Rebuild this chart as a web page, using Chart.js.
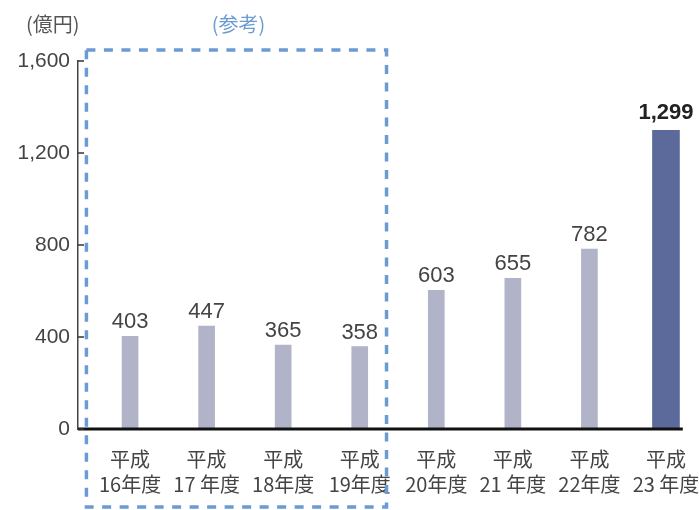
<!DOCTYPE html>
<html>
<head>
<meta charset="utf-8">
<script src="https://cdn.jsdelivr.net/npm/chart.js@4/dist/chart.umd.min.js"></script>
<style>
  html, body { margin: 0; padding: 0; background: #fff; }
  #wrap { position: relative; width: 699px; height: 510px; }
</style>
</head>
<body>
<div id="wrap"><canvas id="bar-chart" width="699" height="510"></canvas></div>
<script>
// 年度ラベル (2行)
const yearLabels = [
  ["平成", "16年度"], ["平成", "17 年度"], ["平成", "18年度"], ["平成", "19年度"],
  ["平成", "20年度"], ["平成", "21 年度"], ["平成", "22年度"], ["平成", "23 年度"]
];
const amounts = [403, 447, 365, 358, 603, 655, 782, 1299]; // 億円
const yTicks = [0, 400, 800, 1200, 1600];
const unitLabel = "(億円)";
const refLabel = "(参考)";

const lightColor = "#b1b3c8";
const darkColor = "#5b6a9b";
const refBlue = "#6b9bd3";
const fontNum = "'Liberation Sans', Arial, sans-serif";
const fontJp = "'Noto Sans CJK JP', sans-serif";

// 平成23年度だけ別扱い(太い棒)
const lightPoints = amounts.slice(0, 7).map((v, i) => ({ x: i, y: v }));
const darkPoints = [{ x: 7, y: amounts[7] }];

const extrasPlugin = {
  id: "extras",
  afterDraw(chart) {
    const ctx = chart.ctx;
    const xs = chart.scales.x;
    const ys = chart.scales.y;
    const area = chart.chartArea;
    ctx.save();

    // x軸の線
    const y0 = ys.getPixelForValue(0);
    ctx.strokeStyle = "#111";
    ctx.lineWidth = 3;
    ctx.beginPath();
    ctx.moveTo(area.left, y0);
    ctx.lineTo(xs.getPixelForValue(7.22), y0);
    ctx.stroke();

    // y軸の内向き目盛り
    ctx.strokeStyle = "#333";
    ctx.lineWidth = 1.5;
    yTicks.forEach((t) => {
      const py = ys.getPixelForValue(t);
      ctx.beginPath();
      ctx.moveTo(area.left, py);
      ctx.lineTo(area.left + 6, py);
      ctx.stroke();
    });

    // 数値ラベル
    ctx.textAlign = "center";
    ctx.textBaseline = "bottom";
    chart.data.datasets.forEach((ds, di) => {
      const meta = chart.getDatasetMeta(di);
      meta.data.forEach((bar, j) => {
        const v = ds.data[j].y;
        const last = di === 1;
        ctx.fillStyle = last ? "#222" : "#444";
        ctx.font = (last ? "bold " : "") + "22px " + fontNum;
        ctx.fillText(v.toLocaleString("en-US"), bar.x, bar.y - (last ? 6 : 3));
      });
    });

    // 単位
    ctx.fillStyle = "#555";
    ctx.font = "20px " + fontJp;
    ctx.textAlign = "left";
    ctx.textBaseline = "middle";
    ctx.fillText(unitLabel, 26, 24);

    // 参考の点線枠
    const left = xs.getPixelForValue(-0.57);
    const right = xs.getPixelForValue(3.35);
    const top = ys.getPixelForValue(1600) - 11;
    const bottom = chart.height - 3;
    ctx.strokeStyle = refBlue;
    ctx.lineWidth = 3.5;
    ctx.setLineDash([9, 8.5]);
    ctx.strokeRect(left, top, right - left, bottom - top);
    ctx.setLineDash([]);

    ctx.fillStyle = refBlue;
    ctx.textAlign = "center";
    ctx.fillText(refLabel, (left + right) / 2 + 2, 24);
    ctx.restore();
  },
};

new Chart(document.getElementById("bar-chart").getContext("2d"), {
  type: "bar",
  data: {
    datasets: [
      { data: lightPoints, backgroundColor: lightColor, barThickness: 16, grouped: false },
      { data: darkPoints, backgroundColor: darkColor, barThickness: 27, grouped: false },
    ],
  },
  options: {
    responsive: false,
    animation: false,
    layout: { autoPadding: false, padding: { top: 61, right: 7, left: 0, bottom: 0 } },
    plugins: { legend: { display: false }, tooltip: { enabled: false } },
    scales: {
      x: {
        type: "linear",
        offset: false,
        min: -0.68,
        max: 7.34,
        afterBuildTicks: (s) => {
          s.ticks = yearLabels.map((_, i) => ({ value: i }));
        },
        afterFit: (s) => {
          s.height = 81;
          s.paddingLeft = 0;
          s.paddingRight = 0;
        },
        grid: { display: false, drawTicks: false, offset: false },
        border: { display: false },
        ticks: {
          autoSkip: false,
          maxRotation: 0,
          padding: 18,
          color: "#444",
          font: { family: fontJp, size: 20, lineHeight: 1.25 },
          callback: (v) => yearLabels[v],
        },
      },
      y: {
        min: 0,
        max: 1600,
        afterBuildTicks: (s) => {
          s.ticks = yTicks.map((v) => ({ value: v }));
        },
        afterFit: (s) => {
          s.width = 78;
          s.paddingTop = 0;
          s.paddingBottom = 0;
        },
        grid: { display: false, drawTicks: false },
        border: { color: "#444", width: 1.5 },
        ticks: {
          padding: 8,
          color: "#444",
          font: { family: fontNum, size: 21 },
          callback: (v) => v.toLocaleString("en-US"),
        },
      },
    },
  },
  plugins: [extrasPlugin],
});
</script>
</body>
</html>
